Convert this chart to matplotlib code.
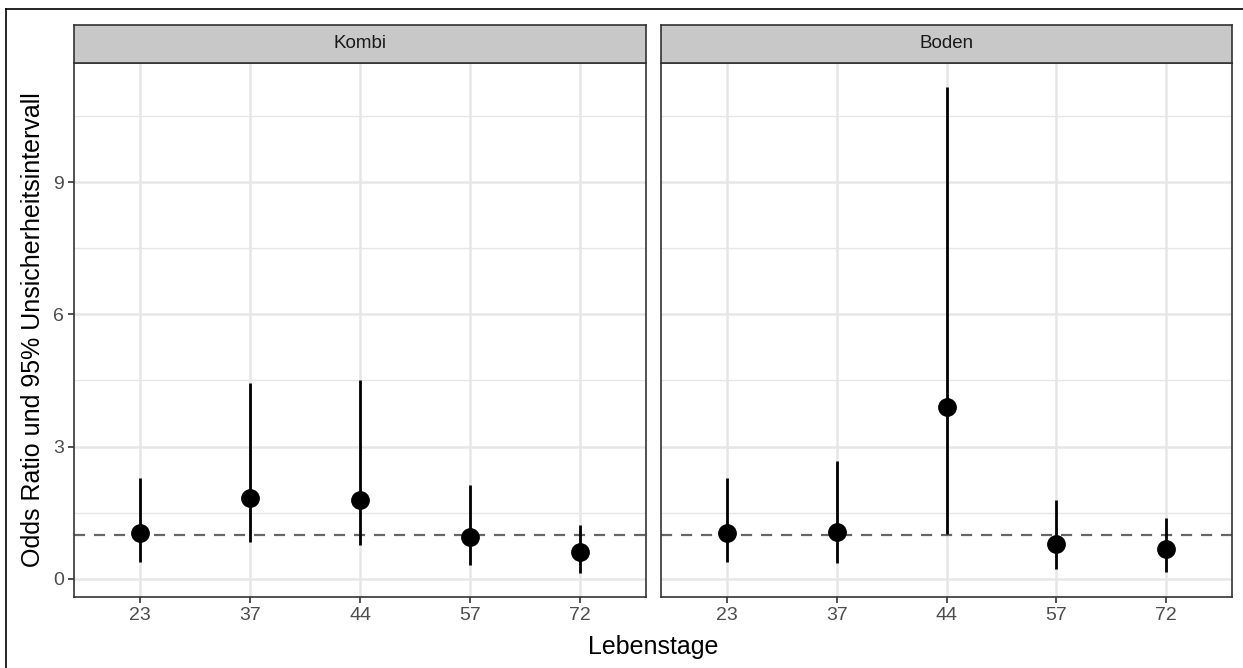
import matplotlib
matplotlib.use("Agg")
import matplotlib.pyplot as plt
from matplotlib.lines import Line2D

plt.rcParams['font.family'] = ['Liberation Sans', 'DejaVu Sans']

stages = ["23", "37", "44", "57", "72"]
panels = ["Kombi", "Boden"]
kombi_or = [1.03, 1.84, 1.80, 0.96, 0.62]
kombi_lo = [0.39, 0.83, 0.76, 0.32, 0.14]
kombi_hi = [2.29, 4.45, 4.50, 2.12, 1.22]
boden_or = [1.04, 1.06, 3.90, 0.80, 0.67]
boden_lo = [0.39, 0.37, 1.02, 0.22, 0.16]
boden_hi = [2.29, 2.67, 11.15, 1.80, 1.38]
yticks = [0, 3, 6, 9]
minor_ticks = [1.5, 4.5, 7.5, 10.5]
ref_line = 1.0

data = {"Kombi": (kombi_or, kombi_lo, kombi_hi), "Boden": (boden_or, boden_lo, boden_hi)}

W, H = 1243, 668
fig = plt.figure(figsize=(W / 100, H / 100), dpi=100)

def ax_rect(x0, y0, x1, y1):
    return [x0 / W, 1 - y1 / H, (x1 - x0) / W, (y1 - y0) / H]

allv = kombi_lo + kombi_hi + boden_lo + boden_hi
ymin, ymax = min(allv), max(allv)
pad = 0.05 * (ymax - ymin)

panel_x = [(74, 646), (661, 1232)]
ptop, pbot = 63, 597
stop = 25
grid_c = "#E6E6E6"

for i, name in enumerate(panels):
    x0, x1 = panel_x[i]
    ax = fig.add_axes(ax_rect(x0, ptop, x1, pbot))
    o, lo, hi = data[name]
    xs = list(range(len(stages)))
    ax.set_xlim(-0.6, len(stages) - 0.4)
    ax.set_ylim(ymin - pad, ymax + pad)
    for m in minor_ticks:
        ax.axhline(m, color=grid_c, lw=1.0, zorder=0)
    for t in yticks:
        ax.axhline(t, color=grid_c, lw=1.8, zorder=0)
    for x in xs:
        ax.axvline(x, color=grid_c, lw=1.8, zorder=0)
    ax.axhline(ref_line, color="#666666", lw=1.6, dashes=(5, 4), zorder=1)
    ax.vlines(xs, lo, hi, color="black", lw=2.0, zorder=2)
    ax.plot(xs, o, "o", color="black", ms=12.5, zorder=3)
    ax.set_xticks(xs)
    ax.set_xticklabels(stages)
    ax.set_yticks(yticks)
    ax.set_yticklabels([str(t) for t in yticks])
    ax.tick_params(axis="both", colors="#333333", labelcolor="#4D4D4D",
                   labelsize=14, length=4, width=1.2, pad=3)
    if i == 1:
        ax.tick_params(axis="y", length=0, labelleft=False)
    for s in ax.spines.values():
        s.set_color("#333333")
        s.set_linewidth(1.2)
    ax.set_facecolor("white")
    # strip
    sax = fig.add_axes(ax_rect(x0, stop, x1, ptop))
    sax.set_xticks([]); sax.set_yticks([])
    sax.set_facecolor("#C8C8C8")
    for s in sax.spines.values():
        s.set_color("#333333")
        s.set_linewidth(1.2)
    sax.text(0.5, 0.5, name, ha="center", va="center", fontsize=13.5,
             color="#1A1A1A", transform=sax.transAxes)

fig.text((74 + 1232) / 2 / W, 1 - 647 / H, "Lebenstage", ha="center", va="center",
         fontsize=18, color="black")
fig.text(33 / W, 1 - 330 / H, "Odds Ratio und 95% Unsicherheitsintervall", ha="center",
         va="center", rotation=90, fontsize=18, color="black")

# outer frame (left and top edges)
fig.add_artist(Line2D([6 / W, 6 / W], [0, 1 - 9 / H], color="black", lw=1.2,
                      transform=fig.transFigure))
fig.add_artist(Line2D([6 / W, 1], [1 - 9 / H, 1 - 9 / H], color="black", lw=1.2,
                      transform=fig.transFigure))

fig.savefig("out.png", dpi=100, facecolor="white")
